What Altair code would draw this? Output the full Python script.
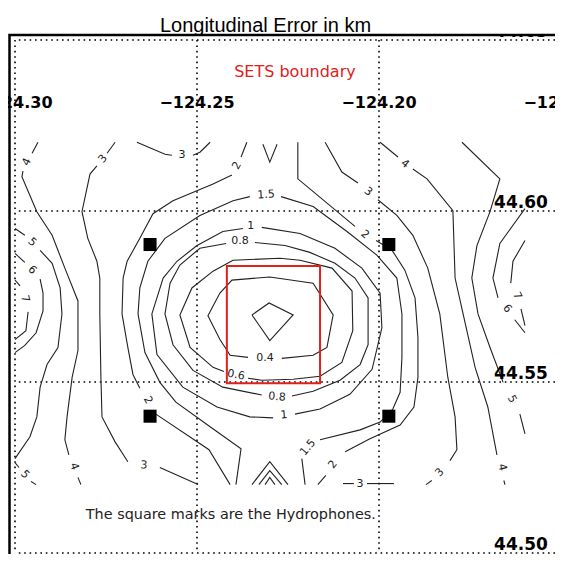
import altair as alt
import pandas as pd

# ---------------- contour polylines (lon, lat) ----------------
c02 = [(-124.2349,44.5696),(-124.2302,44.5731),(-124.2236,44.5696),(-124.2300,44.5621),(-124.2349,44.5696)]
c04 = [(-124.2267,44.5569),(-124.2181,44.5578),(-124.2143,44.5601),(-124.2126,44.5696),(-124.2181,44.5789),
       (-124.2300,44.5807),(-124.2404,44.5798),(-124.2437,44.5760),(-124.2470,44.5694),(-124.2437,44.5624),
       (-124.2409,44.5578),(-124.2360,44.5572)]
c06 = [(-124.2360,44.5511),(-124.2322,44.5505),(-124.2236,44.5508),(-124.2162,44.5517),(-124.2102,44.5557),
       (-124.2072,44.5650),(-124.2074,44.5766),(-124.2129,44.5833),(-124.2217,44.5856),(-124.2272,44.5862),
       (-124.2401,44.5856),(-124.2456,44.5824),(-124.2514,44.5775),(-124.2547,44.5696),(-124.2519,44.5601),
       (-124.2456,44.5543),(-124.2426,44.5531)]
c08a = [(-124.2420,44.5905),(-124.2492,44.5891),(-124.2547,44.5842),(-124.2574,44.5789),(-124.2588,44.5699),
        (-124.2566,44.5609),(-124.2511,44.5534),(-124.2429,44.5485),(-124.2322,44.5462)]
c08b = [(-124.2239,44.5459),(-124.2181,44.5473),(-124.2107,44.5505),(-124.2052,44.5551),(-124.2030,44.5609),
        (-124.2030,44.5746),(-124.2066,44.5804),(-124.2121,44.5847),(-124.2190,44.5879),(-124.2258,44.5899),
        (-124.2341,44.5908)]
c1a = [(-124.2374,44.5949),(-124.2429,44.5940),(-124.2500,44.5899),(-124.2555,44.5853),(-124.2593,44.5804),
       (-124.2624,44.5699),(-124.2610,44.5580),(-124.2539,44.5485),(-124.2445,44.5427),(-124.2355,44.5398),
       (-124.2291,44.5395)]
c1b = [(-124.2231,44.5406),(-124.2162,44.5421),(-124.2080,44.5464),(-124.2019,44.5537),(-124.1992,44.5659),
       (-124.1997,44.5760),(-124.2047,44.5833),(-124.2121,44.5891),(-124.2217,44.5934),(-124.2322,44.5952)]
c15a = [(-124.2355,44.6042),(-124.2401,44.6030),(-124.2492,44.5987),(-124.2588,44.5920),(-124.2635,44.5853),
        (-124.2657,44.5775),(-124.2662,44.5699),(-124.2643,44.5586),(-124.2602,44.5499),(-124.2558,44.5441),
        (-124.2464,44.5369),(-124.2379,44.5305),(-124.2393,44.5200)]
c15b = [(-124.2269,44.6042),(-124.2181,44.6013),(-124.2088,44.5940),(-124.2006,44.5871),(-124.1951,44.5804),
        (-124.1937,44.5699),(-124.1937,44.5572),(-124.1942,44.5470),(-124.1962,44.5421),(-124.1997,44.5383),
        (-124.2052,44.5360),(-124.2162,44.5331)]
c15c = [(-124.2212,44.5276),(-124.2203,44.5200)]
c2a = [(-124.2363,44.6201),(-124.2379,44.6158)]
c2b = [(-124.2404,44.6105),(-124.2456,44.6079),(-124.2566,44.6030),(-124.2621,44.5992),(-124.2657,44.5920),
       (-124.2692,44.5853),(-124.2703,44.5804),(-124.2706,44.5699),(-124.2690,44.5601),(-124.2676,44.5522),
       (-124.2657,44.5482)]
c2c = [(-124.2613,44.5406),(-124.2467,44.5302),(-124.2409,44.5200)]
c2d = [(-124.2223,44.6201),(-124.2223,44.6094),(-124.2066,44.5955)]
c2e = [(-124.2008,44.5914),(-124.1964,44.5885),(-124.1929,44.5827),(-124.1901,44.5746),(-124.1893,44.5630),
       (-124.1893,44.5514),(-124.1904,44.5427),(-124.1942,44.5374),(-124.2025,44.5334),(-124.2093,44.5296)]
c2f = [(-124.2146,44.5227),(-124.2168,44.5200)]
c3a = [(-124.2725,44.6201),(-124.2747,44.6169)]
c3b = [(-124.2775,44.6132),(-124.2794,44.6108),(-124.2816,44.5998),(-124.2800,44.5920),(-124.2775,44.5853),
       (-124.2767,44.5804),(-124.2767,44.5699),(-124.2764,44.5514),(-124.2761,44.5398),(-124.2725,44.5325),
       (-124.2690,44.5267)]
c3c = [(-124.2602,44.5250),(-124.2497,44.5200)]
c3d = [(-124.2665,44.6201),(-124.2588,44.6166),(-124.2569,44.6163)]
c3e = [(-124.2511,44.6163),(-124.2492,44.6172),(-124.2464,44.6201)]
c3f = [(-124.2099,44.5203),(-124.2069,44.5203)]
c3g = [(-124.2033,44.5203),(-124.1959,44.5203)]
c3h = [(-124.2148,44.6201),(-124.2102,44.6114),(-124.2058,44.6082)]
c3i = [(-124.2003,44.6033),(-124.1951,44.5987),(-124.1907,44.5929),(-124.1866,44.5833),(-124.1833,44.5699),
       (-124.1811,44.5514),(-124.1791,44.5398),(-124.1786,44.5302),(-124.1805,44.5270)]
c3j = [(-124.1855,44.5212),(-124.1871,44.5200)]
c4a = [(-124.2937,44.6201),(-124.2953,44.6169)]
c4b = [(-124.2978,44.6117),(-124.2981,44.6100),(-124.2940,44.5998),(-124.2898,44.5929),(-124.2863,44.5833),
       (-124.2827,44.5737),(-124.2827,44.5592),(-124.2843,44.5514),(-124.2857,44.5398),(-124.2863,44.5331),
       (-124.2852,44.5287)]
c4c = [(-124.2827,44.5221),(-124.2819,44.5200)]
c4d = [(-124.1997,44.6201),(-124.1948,44.6158)]
c4e = [(-124.1907,44.6123),(-124.1868,44.6094),(-124.1797,44.6001),(-124.1791,44.5804),(-124.1769,44.5699),
       (-124.1736,44.5543),(-124.1701,44.5427),(-124.1676,44.5287)]
c4f = [(-124.1657,44.5212),(-124.1654,44.5200)]
c5a = [(-124.3000,44.5949),(-124.2973,44.5929)]
c5b = [(-124.2931,44.5885),(-124.2898,44.5847),(-124.2876,44.5775),(-124.2871,44.5699),(-124.2882,44.5601),
       (-124.2912,44.5551),(-124.2931,44.5485),(-124.2940,44.5398),(-124.2959,44.5340),(-124.3000,44.5276)]
c5c = [(-124.3000,44.5264),(-124.2989,44.5250)]
c5d = [(-124.2956,44.5209),(-124.2942,44.5200)]
c5e = [(-124.1772,44.6201),(-124.1668,44.6094),(-124.1695,44.5998),(-124.1731,44.5899),(-124.1745,44.5804),
       (-124.1728,44.5699),(-124.1695,44.5601),(-124.1659,44.5499)]
c5f = [(-124.1613,44.5406),(-124.1599,44.5348)]
c6a = [(-124.3000,44.5876),(-124.2973,44.5850)]
c6b = [(-124.2931,44.5801),(-124.2923,44.5760),(-124.2923,44.5708),(-124.2942,44.5644),(-124.2973,44.5607),
       (-124.3000,44.5586)]
c6c = [(-124.1599,44.6007),(-124.1668,44.5905),(-124.1687,44.5804),(-124.1673,44.5746)]
c6d = [(-124.1627,44.5682),(-124.1599,44.5644)]
c7a = [(-124.3000,44.5798),(-124.2986,44.5781)]
c7b = [(-124.2964,44.5705),(-124.2970,44.5650),(-124.3000,44.5624)]
c7c = [(-124.1599,44.5914),(-124.1632,44.5853),(-124.1638,44.5789)]
c7d = [(-124.1610,44.5714),(-124.1599,44.5665)]
top_v = [(-124.2319,44.6195),(-124.2300,44.6143),(-124.2280,44.6195)]
chev1 = [(-124.2349,44.5200),(-124.2300,44.5267),(-124.2250,44.5200)]
chev2 = [(-124.2330,44.5200),(-124.2300,44.5241),(-124.2267,44.5200)]
chev3 = [(-124.2313,44.5200),(-124.2300,44.5221),(-124.2286,44.5200)]

segments = {
    "c02": c02, "c04": c04, "c06": c06, "c08a": c08a, "c08b": c08b, "c1a": c1a, "c1b": c1b,
    "c15a": c15a, "c15b": c15b, "c15c": c15c, "c2a": c2a, "c2b": c2b, "c2c": c2c, "c2d": c2d,
    "c2e": c2e, "c2f": c2f, "c3a": c3a, "c3b": c3b, "c3c": c3c, "c3d": c3d, "c3e": c3e, "c3f": c3f,
    "c3g": c3g, "c3h": c3h, "c3i": c3i, "c3j": c3j, "c4a": c4a, "c4b": c4b, "c4c": c4c, "c4d": c4d,
    "c4e": c4e, "c4f": c4f, "c5a": c5a, "c5b": c5b, "c5c": c5c, "c5d": c5d, "c5e": c5e, "c5f": c5f,
    "c6a": c6a, "c6b": c6b, "c6c": c6c, "c6d": c6d, "c7a": c7a, "c7b": c7b, "c7c": c7c, "c7d": c7d,
    "top_v": top_v, "chev1": chev1, "chev2": chev2, "chev3": chev3,
}

# ---------------- contour labels ----------------
lbl_txt = ["0.4", "0.6", "0.8", "0.8", "1", "1", "1.5", "1.5", "2", "2", "2", "2",
           "3", "3", "3", "3", "3", "3", "4", "4", "4", "4", "5", "5", "5", "6", "6", "7", "7"]
lbl_lon = [-124.2313, -124.2393, -124.2382, -124.2280, -124.2352, -124.2261, -124.2310, -124.2195,
           -124.2390, -124.2635, -124.2039, -124.2126,
           -124.2758, -124.2646, -124.2541, -124.2052, -124.2030, -124.1833,
           -124.2967, -124.2838, -124.1929, -124.1662,
           -124.2953, -124.2973, -124.1635, -124.2953, -124.1648, -124.2973, -124.1621]
lbl_lat = [44.5569, 44.5520, 44.5911, 44.5456, 44.5955, 44.5403, 44.6047, 44.5308,
           44.6132, 44.5447, 44.5931, 44.5258,
           44.6152, 44.5256, 44.6163, 44.5203, 44.6056, 44.5235,
           44.6143, 44.5253, 44.6137, 44.5250,
           44.5908, 44.5229, 44.5450, 44.5827, 44.5714, 44.5743, 44.5752]
lbl_ang = [0, 10, 0, 5, 0, 355, 357, 310, 299, 62, 40, 308,
           308, 3, 0, 0, 38, 312, 295, 70, 38, 76, 42, 46, 62, 45, 50, 75, 65]

# ---------------- other map features ----------------
hyd_lon = [-124.2629, -124.1973, -124.2629, -124.1973]
hyd_lat = [44.5902, 44.5902, 44.5400, 44.5400]
sets_lon = [-124.2418, -124.2162]
sets_lat = [44.5496, 44.5839]
grat_lon = [-124.30, -124.25, -124.20, -124.15]
grat_lat = [44.50, 44.55, 44.60, 44.65]
lon_labels = ["\u2212124.30", "\u2212124.25", "\u2212124.20", "\u2212124.15"]
lat_labels = ["44.50", "44.55", "44.60", "44.65"]
lon_label_lat = 44.6317
lat_label_lon = -124.1536

# plot area: 540 px wide at 3640 px/deg (the -124.15 meridian falls just past the page edge)
W, H = 540, 513
xs = alt.Scale(domain=[-124.30, -124.15165], zero=False, nice=False)
ys = alt.Scale(domain=[44.50, 44.65], zero=False, nice=False)

def X(f):
    return alt.X(f, type="quantitative", scale=xs, axis=None)

def Y(f):
    return alt.Y(f, type="quantitative", scale=ys, axis=None)

rows = []
for name, pts in segments.items():
    for i, (lo, la) in enumerate(pts):
        rows.append({"seg": name, "i": i, "lon": lo, "lat": la})
seg_df = pd.DataFrame(rows)
lbl_df = pd.DataFrame({"t": lbl_txt, "lon": lbl_lon, "lat": lbl_lat, "ang": lbl_ang})
hyd_df = pd.DataFrame({"lon": hyd_lon, "lat": hyd_lat})
sets_df = pd.DataFrame({"lon": [sets_lon[0]], "lon2": [sets_lon[1]], "lat": [sets_lat[0]], "lat2": [sets_lat[1]]})
vgrat = pd.DataFrame({"lon": grat_lon})
hgrat = pd.DataFrame({"lat": grat_lat})
lonlab_df = pd.DataFrame({"t": lon_labels, "lon": grat_lon, "lat": [lon_label_lat] * 4})
latlab_df = pd.DataFrame({"t": lat_labels, "lat": grat_lat, "lon": [lat_label_lon] * 4})
one = pd.DataFrame({"a": [1]})

dots = dict(color="black", strokeWidth=1.6, strokeDash=[1.6, 3.8])
vlines = alt.Chart(vgrat).mark_rule(**dots).encode(x=X("lon"))
hlines = alt.Chart(hgrat).mark_rule(**dots).encode(y=Y("lat"))

contours = alt.Chart(seg_df).mark_line(color="#222222", strokeWidth=1.1).encode(
    x=X("lon"), y=Y("lat"), detail="seg:N", order="i:Q")

clabels = alt.Chart(lbl_df).mark_text(font="DejaVu Sans", fontSize=11, color="#222222",
                                      align="center", baseline="middle").encode(
    x=X("lon"), y=Y("lat"), text="t:N", angle=alt.Angle("ang:Q", scale=None))

sets_rect = alt.Chart(sets_df).mark_rect(fillOpacity=0, stroke="#e0201b", strokeWidth=2).encode(
    x=X("lon"), x2="lon2", y=Y("lat"), y2="lat2")

hyd = alt.Chart(hyd_df).mark_point(shape="square", filled=True, color="black", size=170, opacity=1).encode(
    x=X("lon"), y=Y("lat"))

lonlab = alt.Chart(lonlab_df).mark_text(font="DejaVu Sans", fontSize=16, fontWeight="bold",
                                        align="center", baseline="middle", color="black").encode(
    x=X("lon"), y=Y("lat"), text="t:N")
latlab = alt.Chart(latlab_df).mark_text(font="DejaVu Sans", fontSize=17, fontWeight="bold",
                                        align="right", baseline="bottom", dy=1, color="black").encode(
    x=X("lon"), y=Y("lat"), text="t:N")

sets_txt = alt.Chart(pd.DataFrame({"t": ["SETS boundary"], "lon": [-124.2231], "lat": [44.6407]})).mark_text(
    font="DejaVu Sans", fontSize=16, color="#e0201b", align="center", baseline="middle").encode(
    x=X("lon"), y=Y("lat"), text="t:N")
note_txt = alt.Chart(pd.DataFrame({"t": ["The square marks are the Hydrophones."],
                                   "lon": [-124.2407], "lat": [44.5111]})).mark_text(
    font="DejaVu Sans", fontSize=14.4, color="#222222", align="center", baseline="middle").encode(
    x=X("lon"), y=Y("lat"), text="t:N")

cover = alt.Chart(one).mark_rect(color="white").encode(
    x=alt.value(-15), x2=alt.value(560), y=alt.value(-40), y2=alt.value(-5))
frame = alt.Chart(one).mark_rect(fillOpacity=0, stroke="black", strokeWidth=2.5).encode(
    x=alt.value(-5.5), x2=alt.value(570), y=alt.value(-5), y2=alt.value(530))
title = alt.Chart(pd.DataFrame({"t": ["Longitudinal Error in km"]})).mark_text(
    font="Liberation Sans", fontSize=20, color="black", align="center", baseline="alphabetic").encode(
    x=alt.value(250.5), y=alt.value(-8), text="t:N")

chart = alt.layer(
    vlines, hlines, contours, clabels, sets_rect, hyd, lonlab, latlab, sets_txt, note_txt,
    cover, frame, title
).properties(
    width=W, height=H,
    autosize=alt.AutoSizeParams(type="none"),
    padding={"left": 7, "top": 32, "right": 0, "bottom": 1},
    background="white",
).configure_view(strokeWidth=0)

chart.save("out.html", embed_options={"renderer": "svg", "actions": False})
